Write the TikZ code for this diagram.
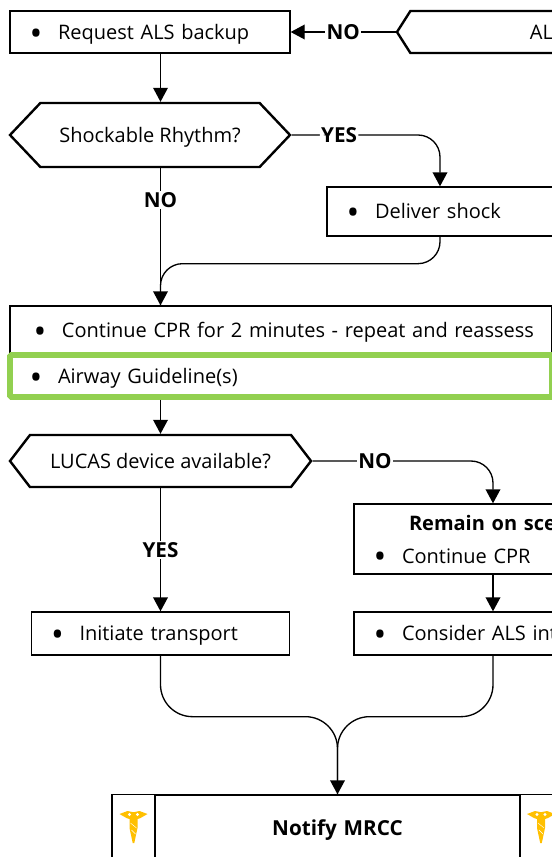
\documentclass[tikz,border=0pt]{standalone}
\usepackage{fontspec}
\setmainfont{Open Sans}
\usetikzlibrary{arrows.meta}
\usetikzlibrary{shapes.symbols}
\newcommand{\bulitem}[2][36pt]{\makebox[#1][l]{\hspace{\dimexpr#1-16.5pt\relax}\makebox[0pt]{\smash{\raisebox{-4.3pt}{\scalebox{1.7}{\textbullet}}}}}#2}
\tikzset{
	flowbox/.style={draw, rectangle, fill=white, line width=1pt, inner xsep=0pt, inner ysep=0pt, align=left, font=\fontsize{15}{18}\selectfont},
	oneline/.style={text height=14.5pt, text depth=3.5pt},
	greenbox/.style={flowbox, draw=guidegreen, line width=4.25pt, rounded corners=1pt},
	question/.style={draw, signal, signal to=west and east, fill=white, line width=1.8pt, inner sep=0pt, oneline, font=\fontsize{15}{18}\selectfont},
	flow/.style={line width=1pt, -{Triangle[length=10.5pt,width=11pt]}},
	joinline/.style={line width=1pt},
	answer/.style={fill=white, inner sep=1pt, font=\fontsize{15.5}{18}\selectfont\bfseries},
	caduceus/.pic={
		\fill[medgold] (-14,4) -- (-6,1) -- (-1,2) -- (1,2) -- (6,1) -- (14,4) -- (7,8) -- (4,9) -- (4,18) -- (0.8,33) -- (-0.8,33) -- (-4,18) -- (-4,9) -- (-7,8) -- cycle;
		\fill[white] (-4,4.5) circle (1.7) (4,4.5) circle (1.7);
		\draw[white, line width=0.3pt] (-3,13) -- (3,18) (-2,20) -- (2,24);
	}
}
\definecolor{guidegreen}{HTML}{92D050}
\definecolor{medgold}{HTML}{FFC000}

\begin{document}
\begin{tikzpicture}[x=0.75pt, y=-0.75pt]
	\useasboundingbox (0,0) rectangle (552,857);
	\clip (0,0) rectangle (552,857);
	\coordinate (trunk) at (160.5,0);
	\node[flowbox, oneline, text width=210pt, minimum height=31.5pt] (request) at (150,32) {\bulitem{Request ALS backup}};
	\node[question, signal pointer angle=115, minimum width=216.75pt, minimum height=31.5pt] (alscheck) at (541.5,32) {AL};
	\node[question, signal pointer angle=93, minimum width=210pt, minimum height=48pt] (shockable) at (150,135) {Shockable Rhythm?};
	\node[flowbox, oneline, text width=169.5pt, minimum height=36.75pt] (deliver) at (440,211.5) {\bulitem{Deliver shock}};
	\node[flowbox, oneline, text width=406.5pt, minimum height=36pt] (continue) at (281,330) {\bulitem[39pt]{Continue CPR for 2 minutes - repeat and reassess}};
	\node[greenbox, oneline, text width=406.5pt, minimum height=31.5pt] (airway) at (281,376) {\bulitem{Airway Guideline(s)}};
	\node[question, signal pointer angle=105, minimum width=225.75pt, minimum height=39pt] (lucas) at (160.5,461) {LUCAS device available?};
	\node[flowbox, text width=208.5pt, minimum height=52.5pt] (remain) at (493,539) {\hspace*{41.25pt}\textbf{Remain on sce}\\[6.75pt]\bulitem{Continue CPR}};
	\node[flowbox, oneline, text width=193.5pt, minimum height=32.25pt] (initiate) at (160.5,633.5) {\bulitem{Initiate transport}};
	\node[flowbox, oneline, text width=208.5pt, minimum height=32.25pt] (consider) at (493,633.5) {\bulitem{Consider ALS int}};
	\node[flowbox, oneline, align=center, text width=273.75pt, minimum height=49.5pt, font=\fontsize{15.5}{18}\selectfont\bfseries] (notify) at (337.5,828) {Notify MRCC};
	\node[flowbox, minimum width=32.25pt, minimum height=50pt] (iconleft) at (133.5,828) {};
	\node[flowbox, minimum width=32.25pt, minimum height=50pt] (iconright) at (541.5,828) {};
	\draw[flow] (alscheck.west) -- node[answer] (noals) {NO} (request.east);
	\draw[flow] (trunk |- request.south) -- (trunk |- shockable.north);
	\draw[flow, rounded corners=16.5pt] (shockable.east) -| node[answer, pos=0.16] (yesshock) {YES} (deliver.north);
	\draw[flow] (trunk |- shockable.south) -- node[answer, pos=0.23] (noshock) {NO} (trunk |- continue.north);
	\draw[joinline, rounded corners=16.5pt] (deliver.south) -- ++(0,27) -| (trunk |- continue.north);
	\draw[flow] (trunk |- airway.south) -- (lucas.north);
	\draw[flow, rounded corners=16.5pt] (lucas.east) -| node[answer, pos=0.173] (nolucas) {NO} (remain.north);
	\draw[flow] (lucas.south) -- node[answer, pos=0.5] (yeslucas) {YES} (initiate.north);
	\draw[flow] (remain.south) -- (consider.north);
	\draw[joinline, rounded corners=24pt] (initiate.south) -- ++(0,61) -| (notify.north);
	\draw[flow, rounded corners=24pt] (consider.south) -- ++(0,61) -| (notify.north);
	\pic at (133.5,810) {caduceus};
	\pic at (541,810) {caduceus};
\end{tikzpicture}
\end{document}
